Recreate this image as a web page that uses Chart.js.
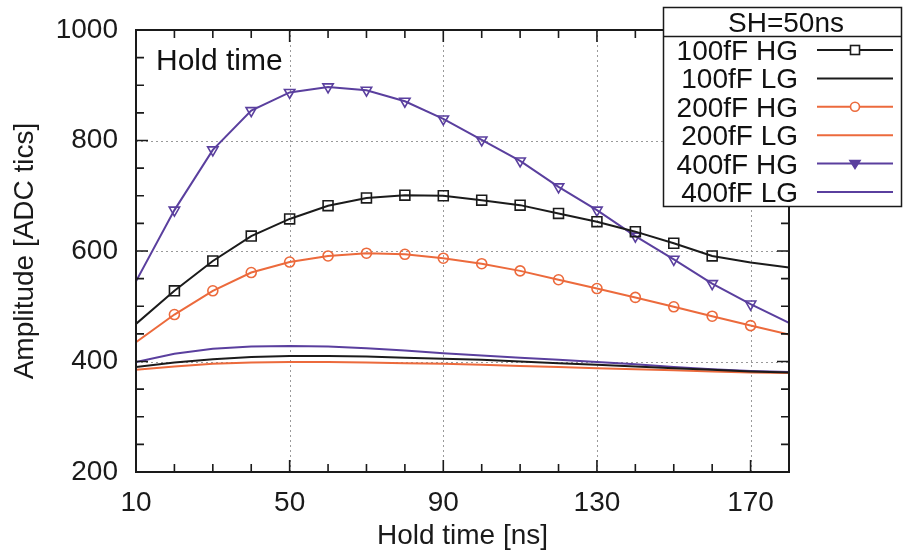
<!DOCTYPE html>
<html>
<head>
<meta charset="utf-8">
<script src="https://cdn.jsdelivr.net/npm/chart.js@4.4.1/dist/chart.umd.min.js"></script>
<style>
  html, body { margin: 0; padding: 0; background: #ffffff; }
  #wrap { width: 903px; height: 551px; position: relative; }
</style>
</head>
<body>
<div id="wrap"><canvas id="c" width="903" height="551"></canvas></div>
<script>
// ---- data ----
const holdTimes = [10, 20, 30, 40, 50, 60, 70, 80, 90, 100, 110, 120, 130, 140, 150, 160, 170, 180];
const hg100 = [468, 528, 582, 627, 658, 682, 696, 701, 700, 692, 683, 668, 653, 635, 614, 591, 579, 570];
const lg100 = [390, 398, 404, 408, 410, 410, 409, 407, 405, 403, 400, 397, 394, 391, 388, 385, 382, 380];
const hg200 = [435, 485, 528, 561, 580, 591, 596, 594, 587, 577, 564, 548, 532, 516, 499, 482, 465, 449];
const lg200 = [385, 391, 396, 398, 399, 399, 398, 397, 396, 394, 392, 390, 388, 386, 384, 382, 380, 379];
const hg400 = [545, 674, 783, 854, 887, 897, 891, 871, 839, 801, 763, 716, 674, 627, 585, 541, 504, 470];
const lg400 = [399, 414, 423, 427, 428, 427, 424, 420, 415, 411, 407, 403, 399, 395, 390, 386, 383, 381];
// which samples carry a marker
const mark100 = [0, 1, 1, 1, 1, 1, 1, 1, 1, 1, 1, 1, 1, 1, 1, 1, 0, 0];
const mark200 = [0, 1, 1, 1, 1, 1, 1, 1, 1, 1, 1, 1, 1, 1, 1, 1, 1, 0];
const mark400 = [0, 1, 1, 1, 1, 1, 1, 1, 1, 1, 1, 1, 1, 1, 1, 1, 1, 0];

const seriesLabels = ['100fF HG', '100fF LG', '200fF HG', '200fF LG', '400fF HG', '400fF LG'];
const xTickValues = [10, 50, 90, 130, 170];
const yTickValues = [200, 400, 600, 800, 1000];
const xMinorStep = 10;
const yMinorStep = 50;
const legendTitle = 'SH=50ns';
const insideLabel = 'Hold time';
const xTitle = 'Hold time [ns]';
const yTitle = 'Amplitude [ADC tics]';

const BLACK = '#1b1b1b';
const ORANGE = '#ec6a3c';
const PURPLE = '#5a3f9e';
const FONT = "'Liberation Sans', Arial, Helvetica, sans-serif";

function pts(ys) { return holdTimes.map((x, i) => ({ x: x, y: ys[i] })); }
function radii(mask, r) { return mask.map(m => m ? r : 0); }

const datasets = [
  { label: seriesLabels[0], data: pts(hg100), borderColor: BLACK, borderWidth: 2,
    pointStyle: 'rect', pointRadius: radii(mark100, 7), pointBorderColor: BLACK,
    pointBackgroundColor: 'rgba(0,0,0,0)', pointBorderWidth: 1.6 },
  { label: seriesLabels[1], data: pts(lg100), borderColor: BLACK, borderWidth: 2, pointRadius: 0 },
  { label: seriesLabels[2], data: pts(hg200), borderColor: ORANGE, borderWidth: 2,
    pointStyle: 'circle', pointRadius: radii(mark200, 5), pointBorderColor: ORANGE,
    pointBackgroundColor: 'rgba(0,0,0,0)', pointBorderWidth: 1.6 },
  { label: seriesLabels[3], data: pts(lg200), borderColor: ORANGE, borderWidth: 2, pointRadius: 0 },
  { label: seriesLabels[4], data: pts(hg400), borderColor: PURPLE, borderWidth: 2,
    pointStyle: 'triangle', pointRotation: 180, pointRadius: radii(mark400, 6), pointBorderColor: PURPLE,
    pointBackgroundColor: 'rgba(0,0,0,0)', pointBorderWidth: 1.6 },
  { label: seriesLabels[5], data: pts(lg400), borderColor: PURPLE, borderWidth: 2, pointRadius: 0 }
];

// frame, ticks, grid, inner label and legend box drawn through the chart's scales
const framePlugin = {
  id: 'frame',
  beforeDatasetsDraw(chart) {
    const { ctx, chartArea: a, scales: { x, y } } = chart;
    ctx.save();
    ctx.strokeStyle = '#9a9a9a';
    ctx.lineWidth = 1;
    ctx.setLineDash([2, 3]);
    xTickValues.forEach(v => {
      const px = Math.round(x.getPixelForValue(v)) + 0.5;
      if (px <= a.left + 2 || px >= a.right - 2) return;
      ctx.beginPath(); ctx.moveTo(px, a.top); ctx.lineTo(px, a.bottom); ctx.stroke();
    });
    yTickValues.forEach(v => {
      const py = Math.round(y.getPixelForValue(v)) + 0.5;
      if (py <= a.top + 2 || py >= a.bottom - 2) return;
      ctx.beginPath(); ctx.moveTo(a.left, py); ctx.lineTo(a.right, py); ctx.stroke();
    });
    ctx.restore();
  },
  afterDatasetsDraw(chart) {
    const { ctx, chartArea: a, scales: { x, y } } = chart;
    ctx.save();
    ctx.strokeStyle = '#1a1a1a';
    ctx.lineWidth = 1.6;
    ctx.setLineDash([]);
    // minor + major ticks, all four sides, pointing inward
    for (let v = x.min; v <= x.max + 1e-9; v += xMinorStep) {
      const px = x.getPixelForValue(v);
      const len = xTickValues.includes(v) ? 12 : 8;
      ctx.beginPath();
      ctx.moveTo(px, a.bottom); ctx.lineTo(px, a.bottom - len);
      ctx.moveTo(px, a.top); ctx.lineTo(px, a.top + len);
      ctx.stroke();
    }
    for (let v = y.min; v <= y.max + 1e-9; v += yMinorStep) {
      const py = y.getPixelForValue(v);
      const len = yTickValues.includes(v) ? 12 : 8;
      ctx.beginPath();
      ctx.moveTo(a.left, py); ctx.lineTo(a.left + len, py);
      ctx.moveTo(a.right, py); ctx.lineTo(a.right - len, py);
      ctx.stroke();
    }
    ctx.lineWidth = 2;
    ctx.strokeRect(a.left, a.top, a.right - a.left, a.bottom - a.top);
    // inner label
    ctx.fillStyle = '#111';
    ctx.font = '30px ' + FONT;
    ctx.textAlign = 'left';
    ctx.textBaseline = 'alphabetic';
    ctx.fillText(insideLabel, a.left + 20, a.top + 40);
    ctx.restore();
  },
  afterDraw(chart) {
    const { ctx } = chart;
    const bx = 663, by = 7, bw = 239, bh = 200, headH = 29;
    ctx.save();
    ctx.fillStyle = '#ffffff';
    ctx.fillRect(bx, by, bw, bh);
    ctx.strokeStyle = '#1a1a1a';
    ctx.lineWidth = 1.5;
    ctx.strokeRect(bx + 0.5, by + 0.5, bw - 1, bh - 1);
    ctx.beginPath(); ctx.moveTo(bx, by + headH + 0.5); ctx.lineTo(bx + bw, by + headH + 0.5); ctx.stroke();
    ctx.fillStyle = '#111';
    ctx.font = '28px ' + FONT;
    ctx.textAlign = 'center';
    ctx.textBaseline = 'alphabetic';
    ctx.fillText(legendTitle, 786, by + 25);
    const rowY0 = 50, rowStep = 28.4;
    chart.data.datasets.forEach((ds, i) => {
      const ry = rowY0 + i * rowStep;
      ctx.textAlign = 'right';
      ctx.fillStyle = '#111';
      ctx.fillText(ds.label, 798, ry + 10);
      ctx.strokeStyle = ds.borderColor;
      ctx.lineWidth = 2;
      ctx.beginPath(); ctx.moveTo(817, ry); ctx.lineTo(893, ry); ctx.stroke();
      const cx = 855;
      ctx.lineWidth = 1.6;
      if (ds.pointStyle === 'rect') {
        ctx.fillStyle = '#fff';
        ctx.fillRect(cx - 4.5, ry - 4.5, 9, 9);
        ctx.strokeRect(cx - 4.5, ry - 4.5, 9, 9);
      } else if (ds.pointStyle === 'circle') {
        ctx.fillStyle = '#fff';
        ctx.beginPath(); ctx.arc(cx, ry, 4.5, 0, Math.PI * 2); ctx.fill(); ctx.stroke();
      } else if (ds.pointStyle === 'triangle') {
        ctx.fillStyle = ds.borderColor;
        ctx.beginPath(); ctx.moveTo(cx - 5, ry - 3); ctx.lineTo(cx + 5, ry - 3); ctx.lineTo(cx, ry + 5); ctx.closePath();
        ctx.fill(); ctx.stroke();
      }
    });
    ctx.restore();
  }
};

new Chart(document.getElementById('c'), {
  type: 'line',
  data: { datasets: datasets },
  options: {
    responsive: false,
    animation: false,
    events: [],
    layout: { padding: { left: 0, top: 30, right: 114, bottom: 0 } },
    elements: { line: { tension: 0 } },
    plugins: { legend: { display: false }, tooltip: { enabled: false } },
    scales: {
      x: {
        type: 'linear', min: 10, max: 180,
        afterBuildTicks: s => { s.ticks = xTickValues.map(v => ({ value: v })); },
        afterFit: s => { s.height = 79; s.paddingLeft = 0; s.paddingRight = 0; },
        grid: { display: false, drawTicks: false },
        border: { display: false },
        ticks: { autoSkip: false, maxRotation: 0, padding: 14, color: '#1a1a1a',
                 callback: v => String(v),
                 font: { family: FONT, size: 28 } },
        title: { display: true, text: xTitle, color: '#1a1a1a', padding: { top: 0, bottom: -2 },
                 font: { family: FONT, size: 28 } }
      },
      y: {
        type: 'linear', min: 200, max: 1000,
        afterBuildTicks: s => { s.ticks = yTickValues.map(v => ({ value: v })); },
        afterFit: s => { s.width = 136; s.paddingTop = 0; s.paddingBottom = 0; },
        grid: { display: false, drawTicks: false },
        border: { display: false },
        ticks: { autoSkip: false, padding: 18, color: '#1a1a1a',
                 callback: v => String(v),
                 font: { family: FONT, size: 28 } },
        title: { display: true, text: yTitle, color: '#1a1a1a', padding: 8,
                 font: { family: FONT, size: 28 } }
      }
    }
  },
  plugins: [framePlugin]
});
</script>
</body>
</html>
